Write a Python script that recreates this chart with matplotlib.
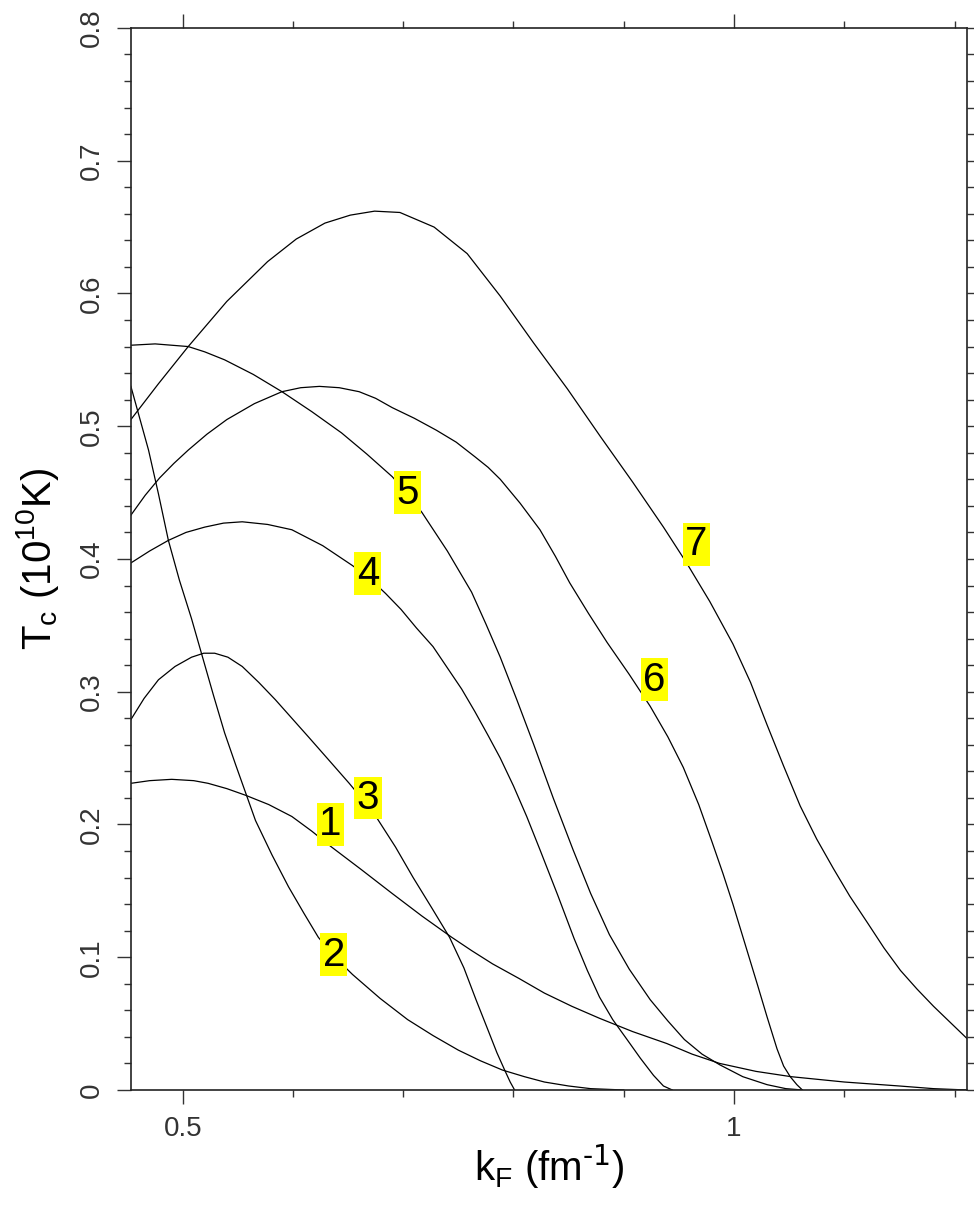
import matplotlib
matplotlib.use("Agg")
import matplotlib.pyplot as plt
from matplotlib.ticker import MultipleLocator

plt.rcParams['font.family'] = ['Liberation Sans', 'DejaVu Sans']
plt.rcParams['mathtext.default'] = 'regular'

# curves: k_F (fm^-1) and T_c (10^10 K)
k1 = [0.453, 0.470, 0.490, 0.510, 0.523, 0.540, 0.557, 0.578, 0.599, 0.617, 0.635, 0.662, 0.690, 0.717,
      0.744, 0.762, 0.781, 0.805, 0.828, 0.853, 0.878, 0.908, 0.939, 0.962, 0.987, 1.020, 1.052, 1.100,
      1.150, 1.181, 1.211]
t1 = [0.231, 0.233, 0.234, 0.233, 0.231, 0.227, 0.222, 0.215, 0.206, 0.195, 0.183, 0.166, 0.148, 0.131,
      0.115, 0.105, 0.095, 0.084, 0.073, 0.063, 0.054, 0.044, 0.035, 0.027, 0.020, 0.014, 0.010, 0.006,
      0.003, 0.001, 0.0]

k2 = [0.453, 0.461, 0.469, 0.478, 0.487, 0.497, 0.508, 0.518, 0.528, 0.538, 0.548, 0.557, 0.566, 0.581,
      0.596, 0.610, 0.623, 0.638, 0.654, 0.679, 0.704, 0.727, 0.750, 0.770, 0.790, 0.810, 0.828, 0.850,
      0.870, 0.900]
t2 = [0.530, 0.506, 0.482, 0.449, 0.414, 0.384, 0.355, 0.326, 0.297, 0.269, 0.245, 0.224, 0.203, 0.177,
      0.153, 0.133, 0.115, 0.100, 0.087, 0.069, 0.053, 0.041, 0.030, 0.022, 0.015, 0.010, 0.006, 0.003,
      0.001, 0.0]

k3 = [0.453, 0.465, 0.478, 0.493, 0.508, 0.519, 0.529, 0.541, 0.554, 0.569, 0.584, 0.599, 0.614, 0.632,
      0.651, 0.664, 0.676, 0.693, 0.709, 0.726, 0.742, 0.755, 0.766, 0.776, 0.785, 0.792, 0.797, 0.801]
t3 = [0.279, 0.295, 0.309, 0.319, 0.326, 0.329, 0.329, 0.326, 0.319, 0.307, 0.294, 0.280, 0.266, 0.249,
      0.231, 0.218, 0.205, 0.183, 0.160, 0.137, 0.115, 0.092, 0.068, 0.047, 0.028, 0.015, 0.006, 0.0]

k4 = [0.453, 0.470, 0.487, 0.503, 0.520, 0.537, 0.554, 0.577, 0.599, 0.627, 0.654, 0.670, 0.684, 0.698,
      0.712, 0.727, 0.740, 0.753, 0.765, 0.777, 0.788, 0.800, 0.812, 0.824, 0.840, 0.855, 0.867, 0.878,
      0.890, 0.903, 0.915, 0.927, 0.936, 0.944]
t4 = [0.397, 0.406, 0.414, 0.420, 0.424, 0.427, 0.428, 0.426, 0.422, 0.410, 0.395, 0.385, 0.374, 0.362,
      0.348, 0.334, 0.318, 0.302, 0.285, 0.267, 0.250, 0.229, 0.206, 0.181, 0.147, 0.114, 0.090, 0.070,
      0.053, 0.038, 0.024, 0.011, 0.003, 0.0]

k5 = [0.453, 0.475, 0.505, 0.520, 0.538, 0.564, 0.590, 0.617, 0.644, 0.667, 0.690, 0.704, 0.717, 0.740,
      0.762, 0.775, 0.788, 0.803, 0.818, 0.836, 0.854, 0.870, 0.887, 0.905, 0.924, 0.940, 0.955, 0.971,
      0.987, 1.008, 1.030, 1.047, 1.062]
t5 = [0.561, 0.562, 0.560, 0.556, 0.550, 0.539, 0.526, 0.511, 0.495, 0.479, 0.462, 0.449, 0.435, 0.406,
      0.375, 0.351, 0.326, 0.294, 0.261, 0.220, 0.181, 0.148, 0.117, 0.091, 0.068, 0.052, 0.038, 0.027,
      0.019, 0.010, 0.004, 0.001, 0.0]

k6 = [0.453, 0.466, 0.479, 0.492, 0.505, 0.522, 0.540, 0.565, 0.590, 0.607, 0.624, 0.642, 0.660, 0.675,
      0.690, 0.710, 0.730, 0.748, 0.765, 0.777, 0.788, 0.806, 0.824, 0.838, 0.851, 0.868, 0.885, 0.905,
      0.924, 0.940, 0.954, 0.968, 0.980, 0.990, 0.999, 1.010, 1.021, 1.030, 1.039, 1.045, 1.051, 1.057,
      1.062]
t6 = [0.433, 0.448, 0.461, 0.472, 0.482, 0.494, 0.505, 0.517, 0.526, 0.529, 0.530, 0.529, 0.526, 0.521,
      0.514, 0.506, 0.497, 0.488, 0.477, 0.469, 0.460, 0.442, 0.422, 0.402, 0.382, 0.359, 0.337, 0.313,
      0.289, 0.266, 0.243, 0.215, 0.187, 0.163, 0.140, 0.110, 0.080, 0.055, 0.031, 0.018, 0.010, 0.004,
      0.0]

k7 = [0.453, 0.478, 0.505, 0.540, 0.577, 0.603, 0.629, 0.652, 0.674, 0.697, 0.728, 0.758, 0.788, 0.818,
      0.849, 0.879, 0.908, 0.936, 0.957, 0.978, 0.999, 1.015, 1.030, 1.045, 1.060, 1.075, 1.090, 1.105,
      1.121, 1.136, 1.151, 1.166, 1.181, 1.196, 1.211]
t7 = [0.505, 0.532, 0.560, 0.594, 0.624, 0.641, 0.653, 0.659, 0.662, 0.661, 0.650, 0.630, 0.598, 0.563,
      0.528, 0.492, 0.458, 0.424, 0.397, 0.368, 0.336, 0.307, 0.275, 0.244, 0.214, 0.189, 0.167, 0.146,
      0.126, 0.107, 0.090, 0.076, 0.063, 0.051, 0.039]

# curve numbers and where they sit
tags = ['1', '2', '3', '4', '5', '6', '7']
tag_k = [0.634, 0.637, 0.668, 0.668, 0.704, 0.928, 0.966]
tag_t = [0.200, 0.102, 0.220, 0.389, 0.450, 0.309, 0.411]

fig = plt.figure(figsize=(9.74, 12.15), dpi=100)
ax = fig.add_axes([0.1345, 0.1029, 0.8583, 0.8741])

for k, t in [(k1, t1), (k2, t2), (k3, t3), (k4, t4), (k5, t5), (k6, t6), (k7, t7)]:
    ax.plot(k, t, color='black', lw=0.9)

for s, x, y in zip(tags, tag_k, tag_t):
    ax.text(x, y, s, fontsize=29, ha='center', va='center', color='black',
            bbox=dict(boxstyle='square,pad=0.06', fc='#ffff00', ec='none'))

ax.set_xlim(0.4531, 1.2113)
ax.set_ylim(0, 0.8)

ax.xaxis.set_minor_locator(MultipleLocator(0.1))
ax.yaxis.set_minor_locator(MultipleLocator(0.02))
ax.set_xticks([0.5, 1.0])
ax.set_xticklabels(['0.5', '1'])
ax.set_yticks([0, 0.1, 0.2, 0.3, 0.4, 0.5, 0.6, 0.7, 0.8])
ax.set_yticklabels(['0', '0.1', '0.2', '0.3', '0.4', '0.5', '0.6', '0.7', '0.8'],
                   rotation=90, va='center')

ax.tick_params(which='both', direction='out', top=True, right=True, width=1.0, color='#333333')
ax.tick_params(which='major', length=10)
ax.tick_params(which='minor', length=5)
ax.tick_params(axis='x', which='major', labelsize=20, pad=9, labelcolor='#333333')
ax.tick_params(axis='y', which='major', labelsize=20, pad=9, labelcolor='#333333')
for lab in ax.get_xticklabels() + ax.get_yticklabels():
    lab.set_fontweight('light')

for sp in ax.spines.values():
    sp.set_linewidth(1.2)
    sp.set_color('#222222')

ax.set_xlabel(r'k$_{F}$ (fm$^{\text{-1}}$)', fontsize=29)
ax.xaxis.set_label_coords(0.5, -0.05)
ax.set_ylabel(r'T$_{c}$ (10$^{10}$K)', fontsize=29, labelpad=13)

fig.savefig('out.png', dpi=100)
